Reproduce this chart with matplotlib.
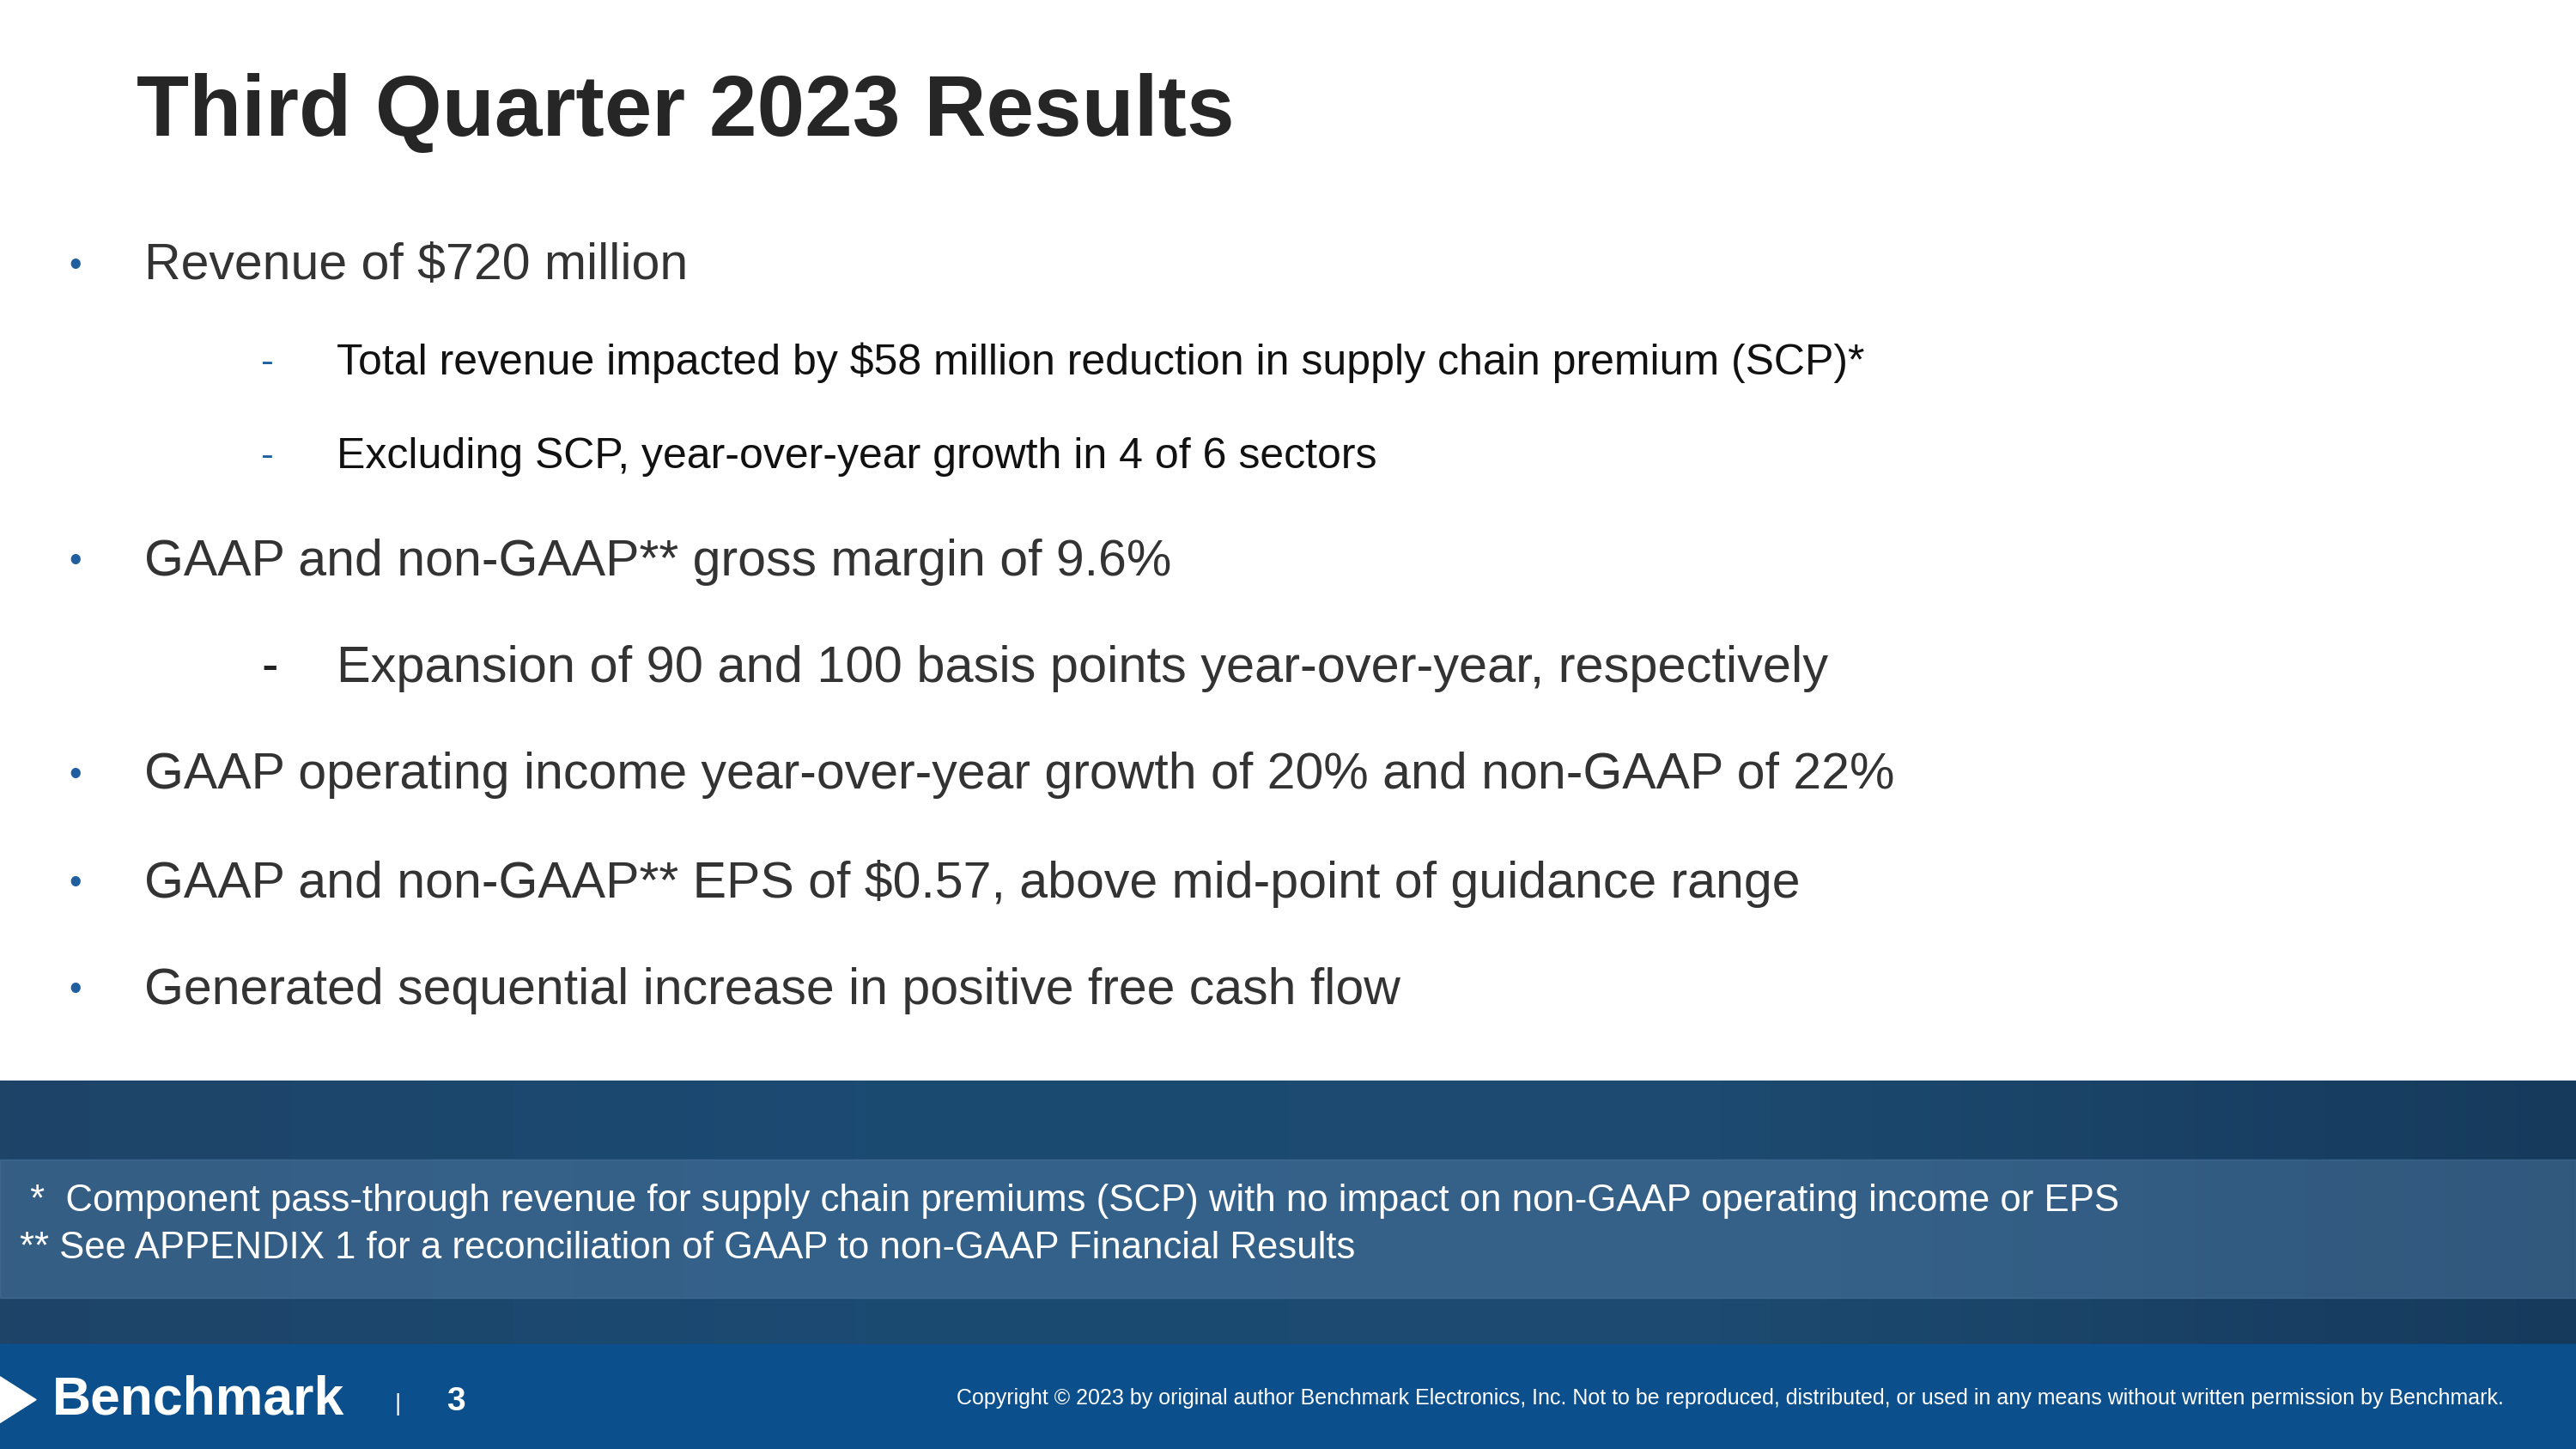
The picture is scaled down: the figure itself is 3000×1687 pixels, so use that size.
import matplotlib
matplotlib.use("Agg")
import matplotlib.pyplot as plt
from matplotlib.patches import Rectangle, Polygon
import numpy as np

plt.rcParams['font.family'] = ['Liberation Sans', 'DejaVu Sans']

title = "Third Quarter 2023 Results"
bullets = [
    ("main", "Revenue of $720 million", 160),
    ("sub", "Total revenue impacted by $58 million reduction in supply chain premium (SCP)*", 219),
    ("sub", "Excluding SCP, year-over-year growth in 4 of 6 sectors", 276),
    ("main", "GAAP and non-GAAP** gross margin of 9.6%", 340),
    ("sub2", "Expansion of 90 and 100 basis points year-over-year, respectively", 405),
    ("main", "GAAP operating income year-over-year growth of 20% and non-GAAP of 22%", 470),
    ("main", "GAAP and non-GAAP** EPS of $0.57, above mid-point of guidance range", 536),
    ("main", "Generated sequential increase in positive free cash flow", 601),
]
footnotes = [
    (" *  Component pass-through revenue for supply chain premiums (SCP) with no impact on non-GAAP operating income or EPS", 729),
    ("** See APPENDIX 1 for a reconciliation of GAAP to non-GAAP Financial Results", 758),
]
page = "3"
brand = "Benchmark"
copyright_text = "Copyright © 2023 by original author Benchmark Electronics, Inc. Not to be reproduced, distributed, or used in any means without written permission by Benchmark."

W, H = 1568, 882
fig = plt.figure(figsize=(30, 16.87), dpi=100)
fig.patch.set_facecolor('white')
ax = fig.add_axes([0, 0, 1, 1])
ax.set_xlim(0, W); ax.set_ylim(H, 0); ax.axis('off')

grad = np.linspace(0, 1, 256).reshape(1, -1)
ax.imshow(np.vstack([grad]*2), extent=[0, W, 818, 658], aspect='auto',
          cmap=matplotlib.colors.LinearSegmentedColormap.from_list('b', ['#1e4468', '#1b4a72', '#1d4a70', '#163a5c']), zorder=0)
ax.add_patch(Rectangle((0, 706), W, 84, color='#5b86b0', alpha=0.4, zorder=1))
ax.add_patch(Rectangle((0, 818), W, 64, color='#0b4f8c', zorder=1))

d = 2
ax.text(83, 67 + d, title, fontsize=72, fontweight='bold', color='#262626', va='center', ha='left')

for kind, txt, y in bullets:
    y = y + d
    if kind == 'main':
        ax.text(42, y, "•", fontsize=30, color='#1f5fa0', va='center')
        ax.text(88, y, txt, fontsize=42.5, color='#333333', va='center')
    elif kind == 'sub':
        ax.text(159, y, "-", fontsize=32, color='#1f5fa0', va='center')
        ax.text(205, y, txt, fontsize=36, color='#111111', va='center')
    else:
        ax.text(159, y, "-", fontsize=42, color='#222222', va='center')
        ax.text(205, y, txt, fontsize=42.8, color='#333333', va='center')

for txt, y in footnotes:
    ax.text(12, y + d, txt, fontsize=31.5, color='white', va='center')

ax.add_patch(Polygon([[0, 838], [0, 866], [22, 852]], color='white', zorder=2))
ax.text(32, 852, brand, fontsize=45, fontweight='bold', color='white', va='center', zorder=3)
ax.text(240, 855, "|", fontsize=20, color='white', va='center')
ax.text(272, 853, page, fontsize=28, fontweight='bold', color='white', va='center')
ax.text(1524, 851, copyright_text, fontsize=18, color='white', va='center', ha='right')

fig.savefig('out.png', dpi=100, facecolor='white')
